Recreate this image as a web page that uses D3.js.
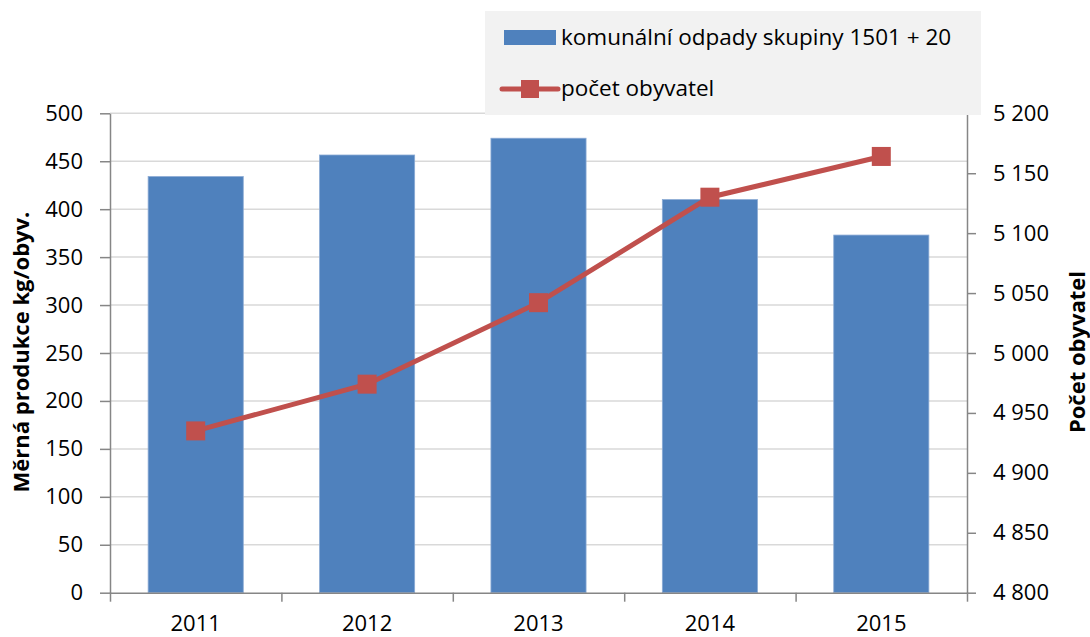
<!DOCTYPE html>
<html>

<head>
  <meta charset="UTF-8">
  <title>Chart</title>
  <style>
    body { margin: 0; background: #fff; }
    text { font-family: "Open Sans", sans-serif; fill: #000; }
  </style>
</head>

<body>
  <script src="https://cdn.jsdelivr.net/npm/d3@7"></script>
  <script>
    const years = ['2011', '2012', '2013', '2014', '2015']
    const waste = [434, 456.5, 474, 410, 373]
    const population = [4935, 4974, 5042, 5130, 5164]
    const leftTicks = [0, 50, 100, 150, 200, 250, 300, 350, 400, 450, 500]
    const rightTicks = [4800, 4850, 4900, 4950, 5000, 5050, 5100, 5150, 5200]
    const seriesNames = ['komunální odpady skupiny 1501 + 20', 'počet obyvatel']
    const axisTitles = ['Měrná produkce kg/obyv.', 'Počet obyvatel']

    const width = 1090,
      height = 637
    const plotLeft = 110, plotRight = 967, plotTop = 113.3, plotBottom = 592.7

    const barColor = '#4f81bd', lineColor = '#c0504d', axisColor = '#868686'

    const svg = d3.select('body')
      .append('svg')
      .attr('width', width)
      .attr('height', height)

    const x = d3.scaleBand()
      .domain(years)
      .range([plotLeft, plotRight])
      .paddingInner(0.445)
      .paddingOuter(0.2225)

    const xEdge = d3.scaleLinear()
      .domain([0, years.length])
      .range([plotLeft, plotRight])

    const yL = d3.scaleLinear().domain([0, 500]).range([plotBottom, plotTop])
    const yR = d3.scaleLinear().domain([4800, 5200]).range([plotBottom, plotTop])

    const fmt = d => d3.format(',')(d).replace(',', ' ')

    // grid
    svg.append('g')
      .selectAll('line')
      .data(leftTicks.slice(1))
      .enter().append('line')
      .attr('x1', plotLeft).attr('x2', plotRight)
      .attr('y1', d => yL(d)).attr('y2', d => yL(d))
      .attr('stroke', '#d9d9d9')
      .attr('stroke-width', 1.5)

    // bars
    svg.append('g')
      .selectAll('rect')
      .data(waste)
      .enter().append('rect')
      .attr('x', (d, i) => x(years[i]))
      .attr('width', x.bandwidth())
      .attr('y', d => yL(d))
      .attr('height', d => yL(0) - yL(d))
      .attr('fill', barColor)
      .attr('stroke', '#8aaad4')
      .attr('stroke-width', 0.8)

    // axes
    function styleAxis(g) {
      g.selectAll('.domain').attr('stroke', axisColor).attr('stroke-width', 1.5)
      g.selectAll('.tick line').attr('stroke', axisColor).attr('stroke-width', 1.5)
      g.selectAll('.tick text').style('font-size', '22px').style('font-family', '"Open Sans", sans-serif').attr('fill', '#000')
    }

    svg.append('g')
      .attr('transform', `translate(${plotLeft},0)`)
      .call(d3.axisLeft(yL).tickValues(leftTicks).tickSize(10).tickSizeOuter(0).tickPadding(17))
      .call(styleAxis)

    svg.append('g')
      .attr('transform', `translate(${plotRight},0)`)
      .call(d3.axisRight(yR).tickValues(rightTicks).tickFormat(fmt).tickSize(9).tickSizeOuter(0).tickPadding(17))
      .call(styleAxis)

    svg.append('g')
      .attr('transform', `translate(0,${plotBottom})`)
      .call(d3.axisBottom(xEdge).ticks(years.length).tickFormat('').tickSize(9).tickSizeOuter(0))
      .call(styleAxis)

    svg.append('g')
      .attr('transform', `translate(0,${plotBottom})`)
      .call(d3.axisBottom(x).tickSize(0).tickPadding(23))
      .call(g => g.select('.domain').remove())
      .call(styleAxis)

    // line
    const line = d3.line()
      .x((d, i) => x(years[i]) + x.bandwidth() / 2)
      .y(d => yR(d))

    svg.append('path')
      .datum(population)
      .attr('d', line)
      .attr('fill', 'none')
      .attr('stroke', lineColor)
      .attr('stroke-width', 5)

    svg.append('g')
      .selectAll('rect')
      .data(population)
      .enter().append('rect')
      .attr('x', (d, i) => x(years[i]) + x.bandwidth() / 2 - 9.5)
      .attr('y', d => yR(d) - 9.5)
      .attr('width', 19).attr('height', 19)
      .attr('fill', lineColor)

    // axis titles
    svg.append('text')
      .attr('transform', 'translate(29,352) rotate(-90)')
      .attr('text-anchor', 'middle')
      .style('font-size', '22px')
      .style('font-weight', 'bold')
      .text(axisTitles[0])

    svg.append('text')
      .attr('transform', 'translate(1085,352) rotate(-90)')
      .attr('text-anchor', 'middle')
      .style('font-size', '22px')
      .style('font-weight', 'bold')
      .text(axisTitles[1])

    // legend
    const legend = svg.append('g')
    legend.append('rect')
      .attr('x', 485).attr('y', 11)
      .attr('width', 496).attr('height', 104)
      .attr('fill', '#f2f2f2')

    legend.append('rect')
      .attr('x', 504).attr('y', 30).attr('width', 52).attr('height', 15)
      .attr('fill', barColor)
    legend.append('line')
      .attr('x1', 502).attr('x2', 558).attr('y1', 89).attr('y2', 89)
      .attr('stroke', lineColor).attr('stroke-width', 5).attr('stroke-linecap', 'round')
    legend.append('rect')
      .attr('x', 521).attr('y', 80).attr('width', 18).attr('height', 18)
      .attr('fill', lineColor)

    legend.selectAll('text.lg')
      .data(seriesNames)
      .enter().append('text')
      .attr('class', 'lg')
      .attr('x', 561)
      .attr('y', (d, i) => i === 0 ? 37 : 88)
      .attr('dy', '0.35em')
      .style('font-size', '22.5px')
      .text(d => d)
  </script>
</body>

</html>
